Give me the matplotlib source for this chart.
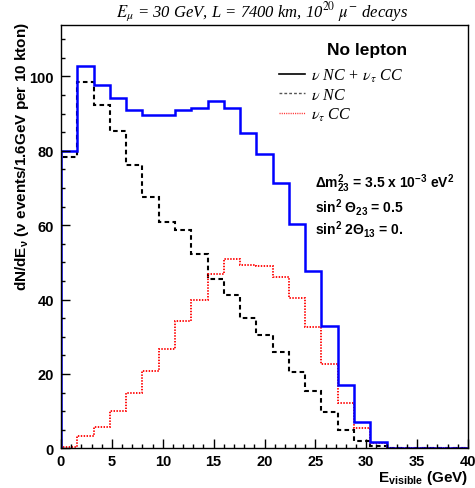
import numpy as np
import matplotlib
matplotlib.use("Agg")
import matplotlib.pyplot as plt
from matplotlib.lines import Line2D
from matplotlib.font_manager import FontProperties
from matplotlib.ticker import MultipleLocator

plt.rcParams['mathtext.fontset'] = 'custom'
plt.rcParams['mathtext.rm'] = 'Liberation Sans:bold'
plt.rcParams['mathtext.it'] = 'Liberation Sans:bold'
plt.rcParams['mathtext.bf'] = 'Liberation Sans:bold'

# ---- data ----
bin_width = 1.6
n_bins = 25
total = [79.8, 102.7, 97.8, 94.3, 91.0, 89.5, 89.5, 91.0, 91.6, 93.5, 91.5, 84.7,
         79.0, 71.4, 60.4, 47.7, 32.9, 17.1, 7.1, 1.7, 0.15, 0.0, 0.0, 0.0, 0.0]
nc = [78.3, 98.5, 92.4, 85.3, 76.1, 67.6, 60.9, 58.6, 52.2, 45.6, 41.1, 35.0,
      30.4, 25.8, 20.4, 15.3, 9.8, 4.9, 2.0, 0.6, 0.05, 0.0, 0.0, 0.0, 0.0]
tau_cc = [0.4, 3.3, 5.6, 9.9, 14.9, 20.9, 26.8, 34.1, 40.0, 46.8, 50.9, 49.3,
          49.0, 46.0, 40.5, 32.6, 22.7, 12.1, 5.4, 1.4, 0.15, 0.0, 0.0, 0.0, 0.0]
labels = [r"$\nu$ NC + $\nu_{\tau}$ CC", r"$\nu$ NC", r"$\nu_{\tau}$ CC"]

edges = np.arange(n_bins + 1) * bin_width

W, H = 475, 489
fig = plt.figure(figsize=(W / 100, H / 100), dpi=100)
ax = fig.add_axes([61 / W, 1 - 449.3 / H, (468 - 61) / W, (449.3 - 26) / H])

ax.stairs(nc, edges, color='black', lw=1.5, linestyle=(0, (2.2, 1.6)), baseline=0)
ax.stairs(tau_cc, edges, color='#ff0000', lw=1.3, linestyle=(0, (0.8, 0.8)), baseline=0)
ax.stairs(total, edges, color='#0000ff', lw=1.8, baseline=0)

ax.set_xlim(0, 40)
ax.set_ylim(0, 113.8)
ax.xaxis.set_major_locator(MultipleLocator(5))
ax.xaxis.set_minor_locator(MultipleLocator(1))
ax.yaxis.set_major_locator(MultipleLocator(20))
ax.yaxis.set_minor_locator(MultipleLocator(5))
ax.tick_params(which='both', direction='in', top=False, right=False, width=1.0)
ax.tick_params(which='major', length=6.2)
ax.tick_params(which='minor', length=3.0)
ax.tick_params(axis='y', pad=5)
ax.tick_params(axis='x', pad=4)
for lab in ax.get_xticklabels() + ax.get_yticklabels():
    lab.set_fontfamily('Liberation Sans')
    lab.set_fontweight('bold')
    lab.set_fontsize(10.5)
for s in ax.spines.values():
    s.set_linewidth(1.0)

# title
fig.text(262 / W, 1 - 12 / H,
         r"$\mathit{E}_{\mu}$ = 30 GeV, L = 7400 km, 10$^{20}$ $\mu^{-}$ decays",
         ha='center', va='center', fontsize=12, family='Liberation Serif',
         style='italic', math_fontfamily='stix')

# axis labels
fig.text(22 / W, 1 - 22 / H, r"dN/dE$_{\nu}$ ($\nu$ events/1.6GeV per 10 kton)",
         rotation=90, ha='center', va='top', fontsize=11,
         family='Liberation Sans', weight='bold')
fig.text(468 / W, 1 - 478 / H, r"E$_{\mathrm{visible}}$ (GeV)",
         ha='right', va='center', fontsize=11, family='Liberation Sans', weight='bold')

# "No lepton"
fig.text(367 / W, 1 - 50 / H, "No lepton", ha='center', va='center',
         fontsize=12.5, family='Liberation Sans', weight='bold')

# legend
handles = [Line2D([], [], color='black', lw=1.2),
           Line2D([], [], color='#555555', lw=1.0, linestyle=(0, (2, 1.5))),
           Line2D([], [], color='#ff3333', lw=1.0, linestyle=(0, (0.8, 0.8)))]
prop = FontProperties(family='Liberation Serif', style='italic', size=11.5,
                      math_fontfamily='stix')
ax.legend(handles, labels, prop=prop, frameon=False, loc='upper left',
          bbox_to_anchor=(279 / W, 1 - 68 / H), bbox_transform=fig.transFigure,
          borderpad=0, borderaxespad=0, handlelength=1.65, handletextpad=0.35,
          labelspacing=0.18)

# oscillation parameters
params = [r"$\Delta$m$^{2}_{23}$ = 3.5 x 10$^{-3}$ eV$^{2}$",
          r"sin$^{2}$ $\Theta_{23}$ = 0.5",
          r"sin$^{2}$ 2$\Theta_{13}$ = 0."]
for i, p in enumerate(params):
    fig.text(315 / W, 1 - (184 + 23 * i) / H, p, ha='left', va='center',
             fontsize=10, family='Liberation Sans', weight='bold')

fig.savefig("out.png", dpi=100)
